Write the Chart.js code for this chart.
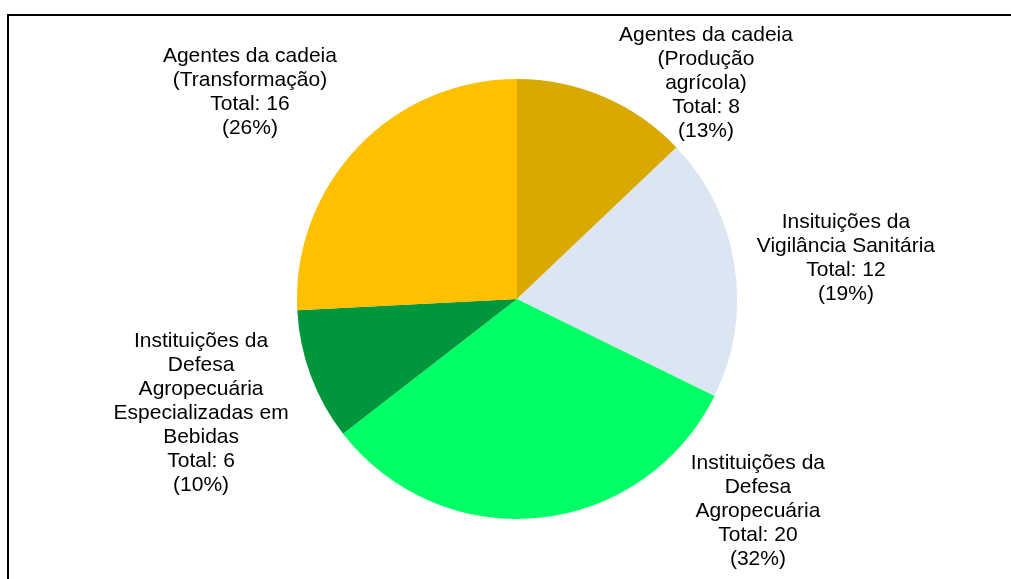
<!DOCTYPE html>
<html>
<head>
<meta charset="utf-8">
<script src="https://cdn.jsdelivr.net/npm/chart.js@4.4.0/dist/chart.umd.min.js"></script>
<style>
  html, body { margin: 0; padding: 0; background: #fff; overflow: hidden; }
  #frame { position: absolute; left: 7px; top: 14px; width: 1100px; height: 700px;
           border-top: 2px solid #000; border-left: 2px solid #000; }
  #wrap { position: absolute; left: 0; top: 0; width: 1011px; height: 579px; }
</style>
</head>
<body>
<div id="frame"></div>
<div id="wrap"><canvas id="pie-chart"></canvas></div>
<script>
// Slice data, clockwise from 12 o'clock
var categories = [
  ["Agentes da cadeia", "(Produção", "agrícola)"],
  ["Insituições da", "Vigilância Sanitária"],
  ["Instituições da", "Defesa", "Agropecuária"],
  ["Instituições da", "Defesa", "Agropecuária", "Especializadas em", "Bebidas"],
  ["Agentes da cadeia", "(Transformação)"]
];
var totals = [8, 12, 20, 6, 16];
var sliceColors = ["#DAA900", "#DCE6F2", "#00FF66", "#00963C", "#FFC000"];

// where each label block sits, relative to pie centre, in pie radii
var labelOffsets = [[0.859, -0.98], [1.495, -0.185], [1.095, 0.964], [-1.436, 0.518], [-1.214, -0.941]];

var grandTotal = totals.reduce(function(a, b) { return a + b; }, 0);

// Outside labels like the spreadsheet ones
var outsideLabels = {
  id: 'outsideLabels',
  afterDraw: function(chart) {
    var ctx = chart.ctx;
    var arcs = chart.getDatasetMeta(0).data;
    ctx.save();
    ctx.font = '21px "Liberation Sans", Arial, sans-serif';
    ctx.fillStyle = '#000';
    ctx.textAlign = 'center';
    ctx.textBaseline = 'middle';
    arcs.forEach(function(arc, i) {
      var lines = categories[i].concat([
        'Total: ' + totals[i],
        '(' + Math.round(totals[i] / grandTotal * 100) + '%)'
      ]);
      var cx = arc.x + labelOffsets[i][0] * arc.outerRadius;
      var cy = arc.y + labelOffsets[i][1] * arc.outerRadius;
      var lh = 24;
      var y0 = cy - (lines.length - 1) * lh / 2;
      lines.forEach(function(t, j) {
        ctx.fillText(t, cx, y0 + j * lh);
      });
    });
    ctx.restore();
  }
};

var pieChart = new Chart(document.getElementById("pie-chart"), {
  type: 'pie',
  data: {
    labels: categories.map(function(c) { return c.join(' '); }),
    datasets: [{
      data: totals,
      backgroundColor: sliceColors,
      borderWidth: 0
    }]
  },
  options: {
    responsive: true,
    maintainAspectRatio: false,
    animation: false,
    layout: { padding: { top: 79, bottom: 60, left: 100, right: 77 } },
    plugins: {
      legend: { display: false },
      tooltip: { enabled: false }
    }
  },
  plugins: [outsideLabels]
});
</script>
</body>
</html>
